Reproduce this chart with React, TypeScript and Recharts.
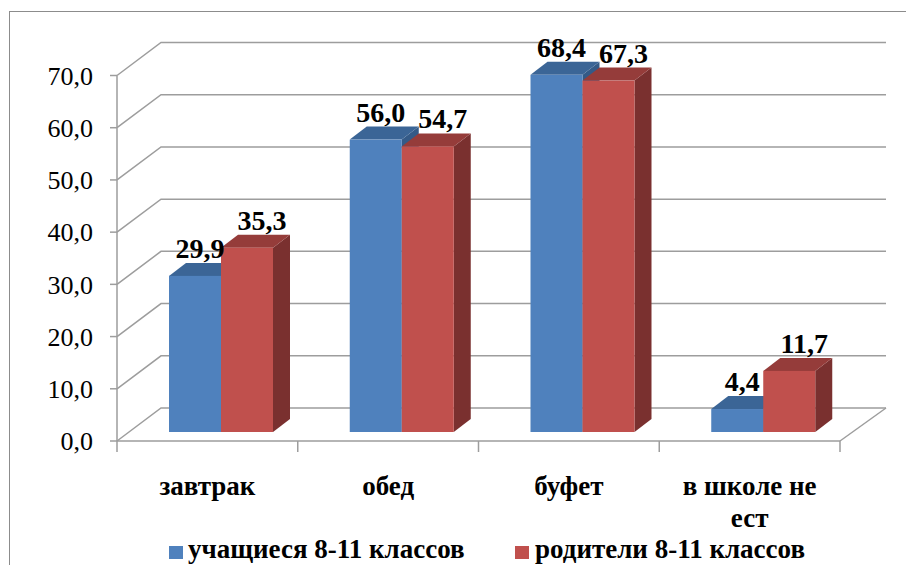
import React from "react";
import { BarChart, Bar, XAxis, YAxis, CartesianGrid, LabelList } from "recharts";

const categories = ["завтрак", "обед", "буфет", "в школе не ест"];
const students = [29.9, 56.0, 68.4, 4.4];
const parents = [35.3, 54.7, 67.3, 11.7];
const seriesNames = ["учащиеся 8-11 классов", "родители 8-11 классов"];
const yTicks = [0, 10, 20, 30, 40, 50, 60, 70];

const W = 906;
const H = 565;
const PLOT_BOTTOM = 441;
// depth of the back wall / floor
const WALL_DX = 44;
const WALL_DY = 33;
// bars stand a little behind the front edge
const BAR_DX = 14;
const BAR_DY = 9;
const BOX_DX = 17;
const BOX_DY = 13;
const BAND = (840 - 117) / categories.length;

const GRID = "#9d9d9d";
const FONT = "Liberation Serif";

const COLORS = {
  blue: { front: "#4F81BD", top: "#3B6596", side: "#345A87" },
  red: { front: "#C0504D", top: "#953C3A", side: "#7A302F" },
};

const data = categories.map((name, i) => ({ name, students: students[i], parents: parents[i] }));

const fmt = (v: number) => v.toFixed(1).replace(".", ",");

// greedy word wrap measured with a canvas
let ctx: CanvasRenderingContext2D | null = null;
function wrap(text: string, font: string, maxWidth: number) {
  if (!ctx) ctx = document.createElement("canvas").getContext("2d");
  if (!ctx) return [text];
  ctx.font = font;
  const lines: string[] = [];
  let cur = "";
  for (const w of text.split(" ")) {
    const next = cur ? cur + " " + w : w;
    if (cur && ctx.measureText(next).width > maxWidth) {
      lines.push(cur);
      cur = w;
    } else cur = next;
  }
  if (cur) lines.push(cur);
  return lines;
}

function box3d(c: { front: string; top: string; side: string }) {
  return (props: any) => {
    const { width, height } = props;
    if (width == null || height == null) return null;
    const x = props.x + BAR_DX;
    const y = props.y - BAR_DY;
    const r = x + width;
    const b = y + height;
    return (
      <g>
        <polygon points={`${r},${y} ${r + BOX_DX},${y - BOX_DY} ${r + BOX_DX},${b - BOX_DY} ${r},${b}`} fill={c.side} />
        <polygon points={`${x},${y} ${x + BOX_DX},${y - BOX_DY} ${r + BOX_DX},${y - BOX_DY} ${r},${y}`} fill={c.top} />
        <rect x={x} y={y} width={width} height={height} fill={c.front} />
      </g>
    );
  };
}

function valueLabel(shift: number) {
  return (props: any) => {
    const vb = props.viewBox || {};
    const x = props.x ?? vb.x;
    const y = props.y ?? vb.y;
    const w = props.width ?? vb.width;
    if (x == null || y == null) return null;
    return (
      <text
        x={x + BAR_DX + w / 2 + shift}
        y={y - BAR_DY - BOX_DY - 5}
        textAnchor="middle"
        style={{ fontFamily: FONT, fontSize: 28, fontWeight: "bold" }}
        fill="#000"
      >
        {fmt(Number(props.value))}
      </text>
    );
  };
}

// back wall lines: diagonal from the front axis, then across the wall
function WallLine(props: any) {
  const { x1, y1, x2 } = props;
  const bottom = Math.abs(y1 - PLOT_BOTTOM) < 1;
  return (
    <g>
      <path
        d={`M${x1},${y1} L${x1 + WALL_DX},${y1 - WALL_DY} L${x2 + WALL_DX + 2},${y1 - WALL_DY}`}
        fill="none"
        stroke={GRID}
        strokeWidth={1.5}
      />
      {bottom && (
        <path d={`M${x2},${y1} L${x2 + WALL_DX + 2},${y1 - WALL_DY}`} fill="none" stroke={GRID} strokeWidth={1.5} />
      )}
    </g>
  );
}

function CategoryTick(props: any) {
  const { x, y, payload, index } = props;
  const half = BAND / 2;
  const lines = wrap(String(payload.value), `bold 27px "${FONT}"`, 155);
  return (
    <g>
      <line x1={x - half} x2={x - half} y1={y} y2={y + 11} stroke={GRID} strokeWidth={1.5} />
      {index === categories.length - 1 && (
        <line x1={x + half} x2={x + half} y1={y} y2={y + 11} stroke={GRID} strokeWidth={1.5} />
      )}
      <text textAnchor="middle" style={{ fontFamily: FONT, fontSize: 27, fontWeight: "bold" }} fill="#000">
        {lines.map((l, i) => (
          <tspan key={i} x={x} y={y + 54 + i * 32}>
            {l}
          </tspan>
        ))}
      </text>
    </g>
  );
}

export default function App() {
  const legendText = { fontFamily: FONT, fontSize: 27, fontWeight: "bold" as const };
  return (
    <div style={{ position: "absolute", left: 0, top: 0, width: W, height: H, overflow: "hidden", background: "#fff" }}>
      <div
        style={{
          position: "absolute",
          left: 9,
          top: 11,
          width: 1000,
          height: 1000,
          border: "1.5px solid #8c8c8c",
        }}
      />
      <div style={{ position: "absolute", left: 0, top: 0 }}>
        <BarChart
          width={W}
          height={H}
          data={data}
          margin={{ top: 75.5, right: 66, bottom: 64, left: 17 }}
          barGap={0}
          barSize={52}
        >
          <CartesianGrid vertical={false} horizontal={(p: any) => <WallLine key={p.key} {...p} />} />
          <XAxis
            dataKey="name"
            interval={0}
            height={60}
            tickLine={false}
            tickSize={0}
            tickMargin={0}
            axisLine={{ stroke: GRID, strokeWidth: 1.5 }}
            tick={<CategoryTick />}
          />
          <YAxis
            type="number"
            domain={[0, 70]}
            ticks={yTicks}
            interval={0}
            width={100}
            tickSize={7}
            tickMargin={17}
            tickFormatter={fmt}
            axisLine={{ stroke: GRID, strokeWidth: 1.5 }}
            tickLine={{ stroke: GRID, strokeWidth: 1.5 }}
            tick={{ fill: "#000", fontSize: 26, fontFamily: FONT, style: { fontFamily: FONT } }}
          />
          <Bar dataKey="students" name={seriesNames[0]} shape={box3d(COLORS.blue)} isAnimationActive={false}>
            <LabelList dataKey="students" content={valueLabel(5)} />
          </Bar>
          <Bar dataKey="parents" name={seriesNames[1]} shape={box3d(COLORS.red)} isAnimationActive={false}>
            <LabelList dataKey="parents" content={valueLabel(15)} />
          </Bar>
        </BarChart>
      </div>
      <svg width={W} height={H} style={{ position: "absolute", left: 0, top: 0, pointerEvents: "none" }}>
        <rect x={169} y={546} width={14} height={13} fill={COLORS.blue.front} />
        <text x={188} y={558} style={legendText} fill="#000">
          {seriesNames[0]}
        </text>
        <rect x={515} y={546} width={14} height={13} fill={COLORS.red.front} />
        <text x={535} y={558} style={legendText} fill="#000">
          {seriesNames[1]}
        </text>
      </svg>
    </div>
  );
}
